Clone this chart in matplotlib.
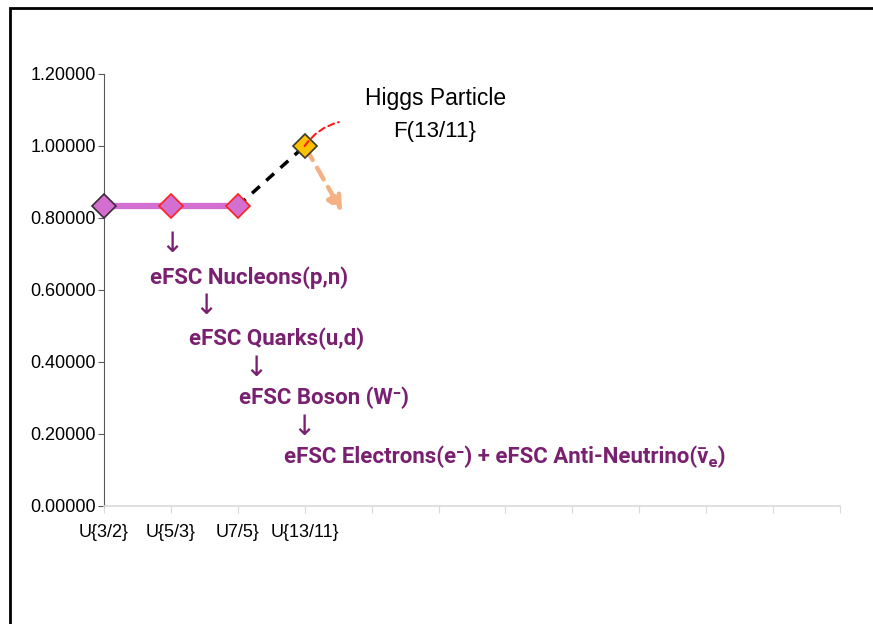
import matplotlib
matplotlib.use("Agg")
import matplotlib.pyplot as plt
from matplotlib.patches import Rectangle

categories = ["U{3/2}", "U{5/3}", "U7/5}", "U{13/11}"]
values = [0.83333, 0.83333, 0.83333, 1.00000]
n_slots = 11
yticks = [0.0, 0.2, 0.4, 0.6, 0.8, 1.0, 1.2]

purple = "#7a2070"
fig = plt.figure(figsize=(8.73, 6.24), dpi=100)
fig.patches.append(Rectangle((10/873, -0.1), 1.2, 1 - 8/624 + 0.1, transform=fig.transFigure,
                             fill=False, edgecolor="black", linewidth=2))
ax = fig.add_axes([104/873, 1 - 506/624, (840-104)/873, (506-74)/624])
ax.set_xlim(0, n_slots)
ax.set_ylim(0, 1.2)

xs = list(range(len(values)))
ax.plot(xs[:3], values[:3], color="#d36fd0", linewidth=4.5, zorder=2, solid_capstyle="butt")
ax.plot(xs[2:4], values[2:4], color="black", linewidth=2.5, linestyle=(0, (3, 2.5)), zorder=2)
edge = ["#3a2a3a", "#ff2020", "#ff2020"]
for i in range(3):
    ax.plot(xs[i], values[i], marker="D", markersize=12, markerfacecolor="#d36fd0",
            markeredgecolor=edge[i], markeredgewidth=1.2, zorder=4, clip_on=False)
ax.plot(xs[3], values[3], marker="D", markersize=12, markerfacecolor="#ffc000",
        markeredgecolor="#3a3a2a", markeredgewidth=1.2, zorder=4)

# red dashed curve from Higgs point
ax.annotate("", xy=(3.55, 1.068), xytext=(3.0, 1.0),
            arrowprops=dict(arrowstyle="-", color="#ff1a1a", linestyle=(0, (3, 2)), linewidth=1.5,
                            shrinkA=0, connectionstyle="arc3,rad=-0.2"), zorder=5)
# orange dashed arrow
ax.annotate("", xy=(3.58, 0.81), xytext=(3.0, 1.0),
            arrowprops=dict(arrowstyle="-|>,head_width=0.45,head_length=0.9", color="#f4b183",
                            linestyle=(0, (3, 2)), linewidth=3.2), zorder=3)

ax.text(4.96, 1.132, "Higgs Particle", ha="center", va="center", fontsize=16.5,
        family="Liberation Sans", color="black")
ax.text(4.94, 1.041, "F(13/11}", ha="center", va="center", fontsize=16,
        family="Liberation Sans", color="black")

def px2x(px):
    return (px - 104) / ((840 - 104) / n_slots)

def py2y(py):
    return (506 - py) / (506 - 74) * 1.2

fam = ["Roboto", "DejaVu Sans"]
arrows = [(160, 244), (194, 306), (244, 368), (292, 427)]
labels = [
    (150, 278, "eFSC Nucleons(p,n)"),
    (189, 339, "eFSC Quarks(u,d)"),
    (239, 398, "eFSC Boson (W⁻)"),
    (284, 457, "eFSC Electrons(e⁻) + eFSC Anti-Neutrino(v̄ₑ)"),
]
for px, py in arrows:
    ax.text(px2x(px), py2y(py), "↓", ha="left", va="center", fontsize=20,
            color=purple, family="DejaVu Sans")
for px, py, s in labels:
    ax.text(px2x(px), py2y(py), s, ha="left", va="center", fontsize=16, fontweight="bold",
            color=purple, family=fam)

ax.set_yticks(yticks)
ax.set_yticklabels([f"{v:.5f}" for v in yticks], family="Liberation Sans", fontsize=13)
ax.set_xticks(range(n_slots + 1))
ax.set_xticklabels(categories + [""] * (n_slots + 1 - len(categories)), family="Liberation Sans",
                   fontsize=13)
ax.tick_params(axis="x", length=5, color="#d9d9d9", pad=8)
ax.tick_params(axis="y", length=4, color="#595959", pad=2)
for s in ["top", "right"]:
    ax.spines[s].set_visible(False)
ax.spines["left"].set_color("#595959")
ax.spines["bottom"].set_color("#d9d9d9")
ax.spines["bottom"].set_linewidth(1.2)

fig.savefig("out.png", dpi=100)
